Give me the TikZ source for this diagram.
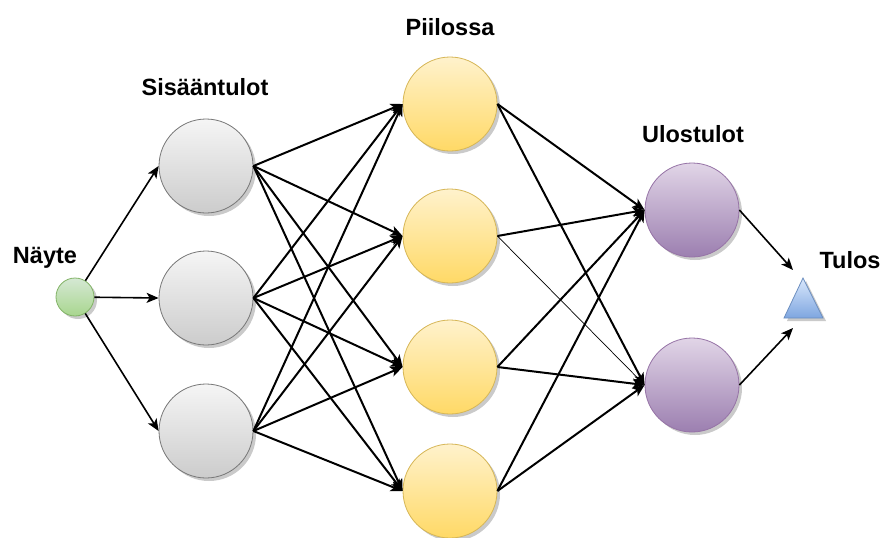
\documentclass[tikz,border=0pt]{standalone}
\usepackage{fontspec}
\setmainfont{Liberation Sans}
\usetikzlibrary{arrows.meta,shadows}
\definecolor{grayTop}{HTML}{F5F5F5}
\definecolor{grayBot}{HTML}{CCCCCC}
\definecolor{grayLine}{HTML}{777777}
\definecolor{yelTop}{HTML}{FFF2CC}
\definecolor{yelBot}{HTML}{FFD966}
\definecolor{yelLine}{HTML}{D6B656}
\definecolor{purTop}{HTML}{E1D5E7}
\definecolor{purBot}{HTML}{9C7FB0}
\definecolor{purLine}{HTML}{9673A6}
\definecolor{grnTop}{HTML}{D5E8D4}
\definecolor{grnBot}{HTML}{A8D68E}
\definecolor{grnLine}{HTML}{82B366}
\definecolor{bluTop}{HTML}{DAE8FC}
\definecolor{bluBot}{HTML}{7EA6E0}
\definecolor{bluLine}{HTML}{6C8EBF}
\tikzset{
  shad/.style={drop shadow={shadow xshift=3pt,shadow yshift=-3pt,fill=black!35,opacity=0.6}},
  neuron/.style={circle,minimum size=94pt,inner sep=0pt,line width=0.8pt,shad},
  inp/.style={neuron,draw=grayLine,top color=grayTop,bottom color=grayBot},
  hid/.style={neuron,draw=yelLine,top color=yelTop,bottom color=yelBot},
  outp/.style={neuron,draw=purLine,top color=purTop,bottom color=purBot},
  smp/.style={circle,minimum size=38pt,inner sep=0pt,line width=0.8pt,shad,draw=grnLine,top color=grnTop,bottom color=grnBot},
  lbl/.style={font=\fontsize{23.5}{27}\selectfont\bfseries,anchor=base,inner sep=0pt},
  conn/.style={line width=2pt,-{Stealth[length=12pt,width=10pt,inset=3pt]}},
  thinconn/.style={line width=0.7pt,-{Stealth[length=12pt,width=10pt,inset=3pt]}},
  sconn/.style={line width=1.6pt,-{Stealth[length=12pt,width=10pt,inset=3pt]}}
}
\begin{document}
\begin{tikzpicture}[x=1pt,y=-1pt]
\useasboundingbox (0,0) rectangle (886,538);
% labels
\node[lbl] (lN) at (45,263) {Näyte};
\node[lbl] (lI) at (205,95) {Sisääntulot};
\node[lbl] (lH) at (450,35) {Piilossa};
\node[lbl] (lO) at (693,142) {Ulostulot};
\node[lbl] (lT) at (850,268) {Tulos};
% nodes
\node[smp] (N) at (75,297) {};
\node[inp] (I1) at (206,166) {};
\node[inp] (I2) at (206,298) {};
\node[inp] (I3) at (206,431) {};
\node[hid] (H1) at (450,104) {};
\node[hid] (H2) at (450,236) {};
\node[hid] (H3) at (450,367) {};
\node[hid] (H4) at (450,491) {};
\node[outp] (O1) at (692,210) {};
\node[outp] (O2) at (692,385) {};
% triangle
\path[shad,draw=bluLine,line width=0.8pt,top color=bluTop,bottom color=bluBot]
  (784,318) -- (803,278) -- (823,318) -- cycle;
\coordinate (T) at (803,300);
\coordinate (Ta) at (793,270);
\coordinate (Tb) at (793,328);
% edges sample -> input
\draw[sconn] (N) -- (I1.west);
\draw[sconn] (N) -- (I2.west);
\draw[sconn] (N) -- (I3.west);
% input -> hidden
\foreach \i in {I1,I2,I3}{
  \foreach \h in {H1,H2,H3,H4}{
    \draw[conn] (\i.east) -- (\h.west);
  }
}
% hidden -> output
\draw[conn] (H1.east) -- (O1.west);
\draw[conn] (H1.east) -- (O2.west);
\draw[conn] (H2.east) -- (O1.west);
\draw[thinconn] (H2.east) -- (O2.west);
\draw[conn] (H3.east) -- (O1.west);
\draw[conn] (H3.east) -- (O2.west);
\draw[conn] (H4.east) -- (O1.west);
\draw[conn] (H4.east) -- (O2.west);
% output -> result
\draw[sconn] (O1.east) -- (Ta);
\draw[sconn] (O2.east) -- (Tb);
\end{tikzpicture}
\end{document}
